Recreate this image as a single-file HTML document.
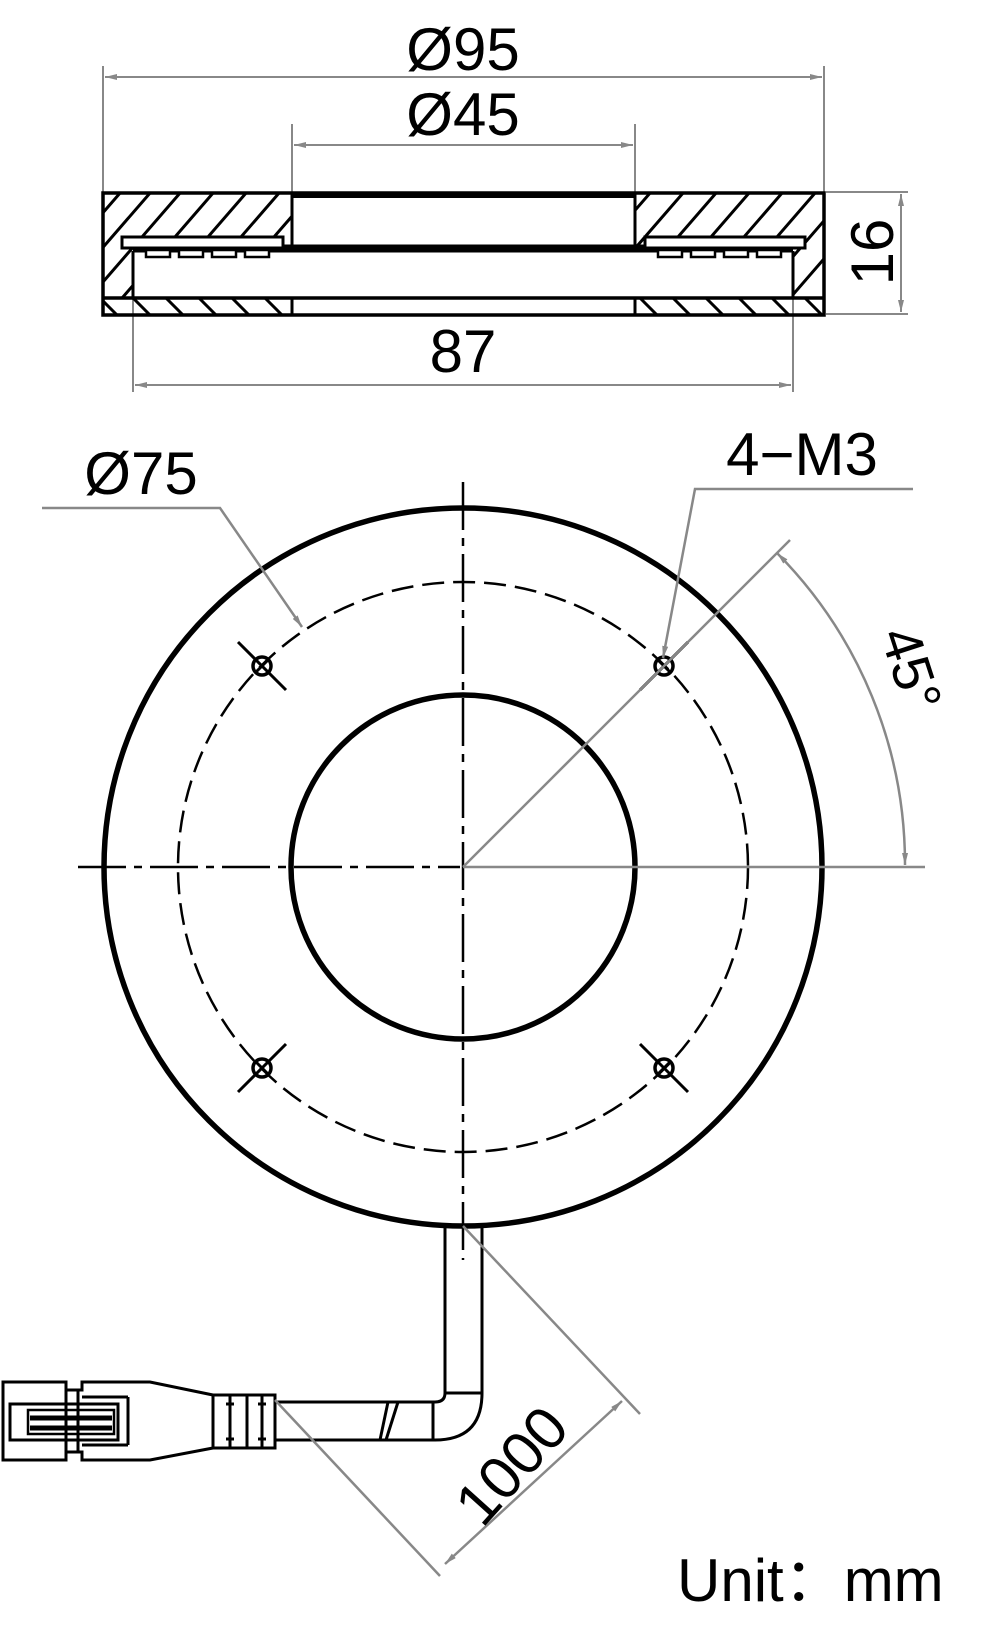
<!DOCTYPE html>
<html><head><meta charset="utf-8"><style>
html,body{margin:0;padding:0;background:#fff}
svg{display:block}
text{font-family:"Liberation Sans",sans-serif;fill:#000}
</style></head><body>
<svg width="1000" height="1646" viewBox="0 0 1000 1646" xmlns="http://www.w3.org/2000/svg">
<defs>
<marker id="a" viewBox="0 0 12 6" refX="12" refY="3" markerWidth="12" markerHeight="6" markerUnits="userSpaceOnUse" orient="auto-start-reverse"><path d="M0,0 L12,3 L0,6 z" fill="#888"/></marker>
<clipPath id="hl"><path d="M103,193 H292 V250 H133 V298 H103 Z"/></clipPath>
<clipPath id="hr"><path d="M635,193 H824 V298 H793 V250 H635 Z"/></clipPath>
<clipPath id="hb"><path d="M103,298 H292 V315 H103 Z M635,298 H824 V315 H635 Z"/></clipPath>
</defs>

<g stroke="#888" stroke-width="2" fill="none">
<line x1="103" y1="66" x2="103" y2="193"/><line x1="824" y1="66" x2="824" y2="193"/>
<line x1="105" y1="77" x2="822" y2="77" marker-start="url(#a)" marker-end="url(#a)"/>
<line x1="292" y1="124" x2="292" y2="193"/><line x1="635" y1="124" x2="635" y2="193"/>
<line x1="294" y1="145" x2="633" y2="145" marker-start="url(#a)" marker-end="url(#a)"/>
<line x1="826" y1="192" x2="908" y2="192"/><line x1="826" y1="314" x2="908" y2="314"/>
<line x1="901" y1="194" x2="901" y2="312" marker-start="url(#a)" marker-end="url(#a)"/>
<line x1="133" y1="298" x2="133" y2="392"/><line x1="793" y1="298" x2="793" y2="392"/>
<line x1="135" y1="385" x2="791" y2="385" marker-start="url(#a)" marker-end="url(#a)"/>
</g>
<text x="463" y="70" font-size="60" text-anchor="middle">Ø95</text>
<text x="463" y="135" font-size="60" text-anchor="middle">Ø45</text>
<text x="463" y="372" font-size="60" text-anchor="middle">87</text>
<text transform="translate(893,252) rotate(-90)" font-size="60" text-anchor="middle">16</text>

<g stroke="#000" stroke-width="3">
<g clip-path="url(#hl)">
<line x1="70" y1="320" x2="200" y2="170"/><line x1="103" y1="320" x2="233" y2="170"/>
<line x1="40" y1="320" x2="170" y2="170"/><line x1="136" y1="320" x2="266" y2="170"/>
<line x1="169" y1="320" x2="299" y2="170"/><line x1="202" y1="320" x2="332" y2="170"/>
<line x1="235" y1="320" x2="365" y2="170"/><line x1="10" y1="320" x2="140" y2="170"/>
</g>
<g clip-path="url(#hr)">
<line x1="540" y1="320" x2="670" y2="170"/><line x1="573" y1="320" x2="703" y2="170"/>
<line x1="606" y1="320" x2="736" y2="170"/><line x1="639" y1="320" x2="769" y2="170"/>
<line x1="672" y1="320" x2="802" y2="170"/><line x1="705" y1="320" x2="835" y2="170"/>
<line x1="738" y1="320" x2="868" y2="170"/><line x1="771" y1="320" x2="901" y2="170"/>
</g>
<g clip-path="url(#hb)">
<line x1="100" y1="298" x2="117" y2="315"/><line x1="133" y1="298" x2="150" y2="315"/>
<line x1="166" y1="298" x2="183" y2="315"/><line x1="199" y1="298" x2="216" y2="315"/>
<line x1="232" y1="298" x2="249" y2="315"/><line x1="265" y1="298" x2="282" y2="315"/>
<line x1="640" y1="298" x2="657" y2="315"/><line x1="673" y1="298" x2="690" y2="315"/>
<line x1="706" y1="298" x2="723" y2="315"/><line x1="739" y1="298" x2="756" y2="315"/>
<line x1="772" y1="298" x2="789" y2="315"/><line x1="805" y1="298" x2="822" y2="315"/>
</g>
</g>
<g stroke="#000" fill="none">
<rect x="103" y="193" width="721" height="122" stroke-width="3.5"/>
<line x1="292" y1="195" x2="635" y2="195" stroke-width="6"/>
<line x1="292" y1="193" x2="292" y2="250" stroke-width="3"/>
<line x1="635" y1="193" x2="635" y2="250" stroke-width="3"/>
<line x1="292" y1="298" x2="292" y2="315" stroke-width="3"/>
<line x1="635" y1="298" x2="635" y2="315" stroke-width="3"/>
<line x1="283" y1="247" x2="645" y2="247" stroke-width="5"/>
<line x1="133" y1="251" x2="793" y2="251" stroke-width="3"/>
<line x1="133" y1="251" x2="133" y2="298" stroke-width="3"/>
<line x1="793" y1="251" x2="793" y2="298" stroke-width="3"/>
<line x1="103" y1="298" x2="824" y2="298" stroke-width="3.5"/>
<rect x="122" y="237" width="161" height="11" fill="#fff" stroke-width="3"/>
<rect x="645" y="237" width="160" height="11" fill="#fff" stroke-width="3"/>
<g stroke-width="2.5" fill="#fff">
<rect x="146" y="250" width="24" height="7"/><rect x="179" y="250" width="24" height="7"/>
<rect x="212" y="250" width="24" height="7"/><rect x="245" y="250" width="24" height="7"/>
<rect x="658" y="250" width="24" height="7"/><rect x="691" y="250" width="24" height="7"/>
<rect x="724" y="250" width="24" height="7"/><rect x="757" y="250" width="24" height="7"/>
</g>
</g>

<g stroke="#000" fill="none">
<circle cx="463" cy="867" r="359" stroke-width="5.5"/>
<circle cx="463" cy="867" r="172" stroke-width="5.5"/>
<circle cx="463" cy="867" r="285" stroke-width="2.5" stroke-dasharray="22,9"/>
<line x1="78" y1="867" x2="460" y2="867" stroke-width="2.5" stroke-dasharray="48,8,8,8"/>
<line x1="463" y1="482" x2="463" y2="1260" stroke-width="2.5" stroke-dasharray="48,8,8,8"/>
<g stroke-width="3.5">
<circle cx="262" cy="666" r="9"/><circle cx="664" cy="666" r="9"/>
<circle cx="262" cy="1068" r="9"/><circle cx="664" cy="1068" r="9"/>
</g>
<g stroke-width="3">
<line x1="238" y1="642" x2="286" y2="690"/><line x1="256" y1="672" x2="268" y2="660"/>
<line x1="640" y1="690" x2="688" y2="642"/><line x1="658" y1="660" x2="670" y2="672"/>
<line x1="238" y1="1092" x2="286" y2="1044"/><line x1="256" y1="1062" x2="268" y2="1074"/>
<line x1="640" y1="1044" x2="688" y2="1092"/><line x1="658" y1="1074" x2="670" y2="1062"/>
</g>
</g>
<g stroke="#888" stroke-width="2.5" fill="none">
<line x1="463" y1="867" x2="925" y2="867"/>
<line x1="463" y1="867" x2="790" y2="540"/>
<polyline points="42,508 220,508 302,627" marker-end="url(#a)"/>
<polyline points="913,489 695,489 663,658" marker-end="url(#a)"/>
<path d="M777,553 A442,442 0 0 1 905,865" marker-start="url(#a)" marker-end="url(#a)"/>
</g>
<text x="141" y="494" font-size="60" text-anchor="middle">Ø75</text>
<text x="802" y="475" font-size="60" text-anchor="middle">4−M3</text>
<text transform="translate(893,675) rotate(72)" font-size="56" text-anchor="middle">45°</text>

<g stroke="#000" stroke-width="3" fill="none">
<line x1="445" y1="1226" x2="445" y2="1393"/>
<line x1="482" y1="1226" x2="482" y2="1393"/>
<line x1="445" y1="1393" x2="482" y2="1393"/>
<path d="M445,1393 Q445,1402 435,1402 L275,1402"/>
<path d="M482,1393 Q482,1440 435,1440 L275,1440"/>
<line x1="433" y1="1402" x2="433" y2="1440"/>
<line x1="388" y1="1402" x2="380" y2="1440"/>
<line x1="398" y1="1402" x2="386" y2="1440"/>
<rect x="213" y="1395" width="62" height="53"/>
<line x1="230" y1="1395" x2="230" y2="1448"/><line x1="247" y1="1395" x2="247" y2="1448"/><line x1="262" y1="1395" x2="262" y2="1448"/>
<line x1="226" y1="1404" x2="234" y2="1404"/><line x1="226" y1="1439" x2="234" y2="1439"/>
<line x1="258" y1="1404" x2="266" y2="1404"/><line x1="258" y1="1439" x2="266" y2="1439"/>
<path d="M213,1395 L150,1382 L82,1382 V1390 H78 V1452 H82 V1460 H150 L213,1448"/>
<line x1="128" y1="1397" x2="128" y2="1445"/>
<path d="M82,1397 H128 M82,1445 H128"/>
<rect x="3" y="1382" width="63" height="78"/>
<line x1="66" y1="1390" x2="78" y2="1390"/><line x1="66" y1="1452" x2="78" y2="1452"/>
<rect x="10" y="1404" width="108" height="36"/>
<rect x="28" y="1410" width="86" height="24" stroke-width="2.5"/>
<line x1="30" y1="1418" x2="112" y2="1418" stroke-width="5"/>
<line x1="30" y1="1428" x2="112" y2="1428" stroke-width="5"/>
</g>
<g stroke="#888" stroke-width="2.5" fill="none">
<line x1="463" y1="1226" x2="640" y2="1414"/>
<line x1="275" y1="1400" x2="440" y2="1576"/>
<line x1="622" y1="1401" x2="445" y2="1564" marker-start="url(#a)" marker-end="url(#a)"/>
</g>
<text transform="translate(512,1466) rotate(-48)" font-size="60" text-anchor="middle" dy="20">1000</text>
<text x="677" y="1601" font-size="60">Unit：mm</text>
</svg>
</body></html>
